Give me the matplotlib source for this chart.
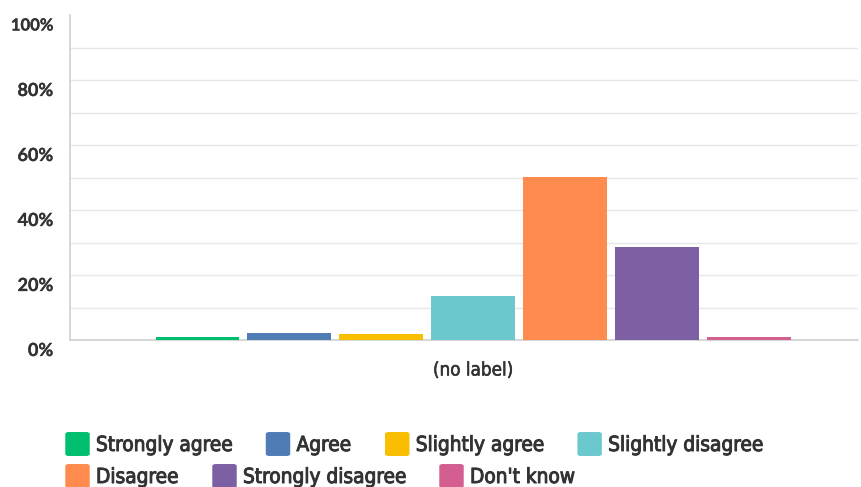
import matplotlib
matplotlib.use("Agg")
import matplotlib.pyplot as plt
import matplotlib.transforms as mtransforms
import matplotlib.patheffects as pe
from matplotlib.patches import FancyBboxPatch
from matplotlib import font_manager

categories = ["Strongly agree", "Agree", "Slightly agree", "Slightly disagree",
              "Disagree", "Strongly disagree", "Don't know"]
values = [0.9, 2.3, 1.7, 13.5, 50.1, 28.7, 0.8]
colors = ["#00BF6F", "#507CB6", "#F9BE00", "#6BC8CD", "#FF8B4F", "#7D5FA3", "#D25F90"]
yticks = [0, 20, 40, 60, 80, 100]
ytick_labels = ["0%", "20%", "40%", "60%", "80%", "100%"]
minor_ticks = [10, 30, 50, 70, 90]
xlabel = "(no label)"

cond = None
for f in font_manager.fontManager.ttflist:
    fn = f.fname.replace(" ", "")
    if "DejaVuSansCondensed.ttf" in fn:
        cond = f.fname
        break

def fp(size):
    if cond is not None:
        return font_manager.FontProperties(fname=cond, size=size)
    return font_manager.FontProperties(family="DejaVu Sans", size=size)

semi = [pe.withStroke(linewidth=0.7, foreground="#333333")]
semi_tick = [pe.withStroke(linewidth=0.2, foreground="#333333")]

fig = plt.figure(figsize=(8.61, 4.87), dpi=100)
ax = fig.add_axes([70/861, 1-340/487, (858-70)/861, (340-15)/487])

x = list(range(len(categories)))
ax.bar(x, values, width=0.913, color=colors, zorder=3)
ax.set_xlim(-1.386, 7.18)
ax.set_ylim(0, 100)
ax.set_yticks(yticks)
ax.set_yticklabels(ytick_labels, fontfamily="Lato", fontweight="bold", fontsize=13, color="#333333")
ax.get_yticklabels()[-1].set_fontsize(12)
for lab in ax.get_yticklabels():
    lab.set_path_effects(semi_tick)
ax.set_yticks(minor_ticks, minor=True)
ax.grid(axis="y", which="both", color="#e8e8e8", linewidth=1, zorder=0)
ax.yaxis.get_gridlines()[-1].set_visible(False)
ax.tick_params(axis="y", which="both", length=0, pad=12)
ax.set_xticks([])
for s in ["top", "right"]:
    ax.spines[s].set_visible(False)
ax.spines["left"].set_color("#cfcfcf")
ax.spines["bottom"].set_color("#cfcfcf")
ax.spines["left"].set_linewidth(1.2)
ax.spines["bottom"].set_linewidth(1.2)

offset = mtransforms.ScaledTranslation(0, -9/100, fig.dpi_scale_trans)
for lab in ax.get_yticklabels():
    lab.set_transform(lab.get_transform() + offset)

fig.text(473/861, 1-370/487, xlabel, ha="center", va="center",
         fontproperties=fp(13.5), color="#333333",
         path_effects=[pe.withStroke(linewidth=0.4, foreground="#333333")])

# legend, manually laid out in rows
fig.canvas.draw()
renderer = fig.canvas.get_renderer()
rows = [[0, 1, 2, 3], [4, 5, 6]]
row_y = [444, 476]
for r, idxs in zip(row_y, rows):
    xpos = 66
    for i in idxs:
        p = FancyBboxPatch(((xpos+1)/861, 1-(r+11)/487), 21/861, 22/487,
                           boxstyle="round,pad=0.002,rounding_size=0.004",
                           transform=fig.transFigure, facecolor=colors[i],
                           edgecolor="none")
        fig.patches.append(p)
        t = fig.text((xpos+30)/861, 1-(r+1)/487, categories[i], ha="left", va="center",
                     fontproperties=fp(14.9), color="#333333", path_effects=semi)
        w = t.get_window_extent(renderer).width
        xpos = xpos + 30 + w + 35

fig.savefig("out.png", dpi=100, facecolor="white")
